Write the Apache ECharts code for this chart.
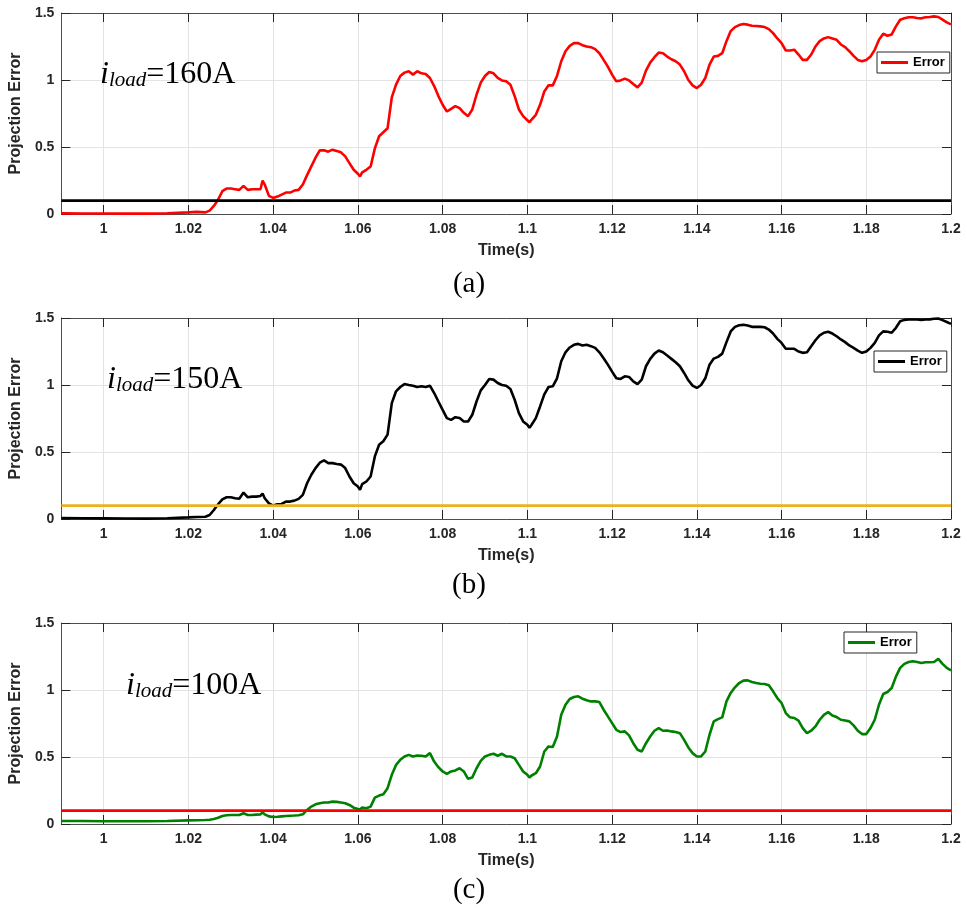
<!DOCTYPE html>
<html>
<head>
<meta charset="utf-8">
<script src="https://cdn.jsdelivr.net/npm/echarts@6/dist/echarts.min.js"></script>
<style>
html,body{margin:0;padding:0;background:#fff;}
#chart{width:967px;height:909px;}
</style>
</head>
<body>
<div id="chart"></div>
<script>
// ---- data ----
const times = [0.990,0.995,1.000,1.005,1.010,1.015,1.020,1.022,1.024,
1.025,1.026,1.027,1.028,1.029,1.030,1.031,1.032,1.033,1.034,1.035,1.036,1.037,1.0375,
1.038,1.039,1.040,1.041,1.042,1.043,1.044,1.045,1.046,1.047,1.048,1.049,1.050,
1.051,1.052,1.053,1.054,1.055,1.056,1.057,1.058,1.059,1.060,1.0605,
1.061,1.062,1.063,1.064,1.065,1.066,1.067,1.068,1.069,1.070,
1.071,1.072,1.073,1.074,1.075,1.076,1.077,1.078,1.079,1.080,
1.081,1.082,1.083,1.084,1.085,1.086,1.087,1.088,1.089,1.090,
1.091,1.092,1.093,1.094,1.095,1.096,1.097,1.098,1.099,1.100,
1.1005,
1.101,1.102,1.103,1.104,1.105,1.106,1.107,1.108,1.109,1.110,
1.111,1.112,1.113,1.114,1.115,1.116,1.117,1.118,1.119,1.120,
1.121,1.122,1.123,1.124,1.125,1.126,1.127,1.128,1.129,1.130,
1.131,1.132,1.133,1.134,1.135,1.136,1.137,1.138,1.139,1.140,
1.141,1.142,1.143,1.144,1.145,1.146,1.147,1.148,1.149,1.150,
1.151,1.152,1.153,1.154,1.155,1.156,1.157,1.158,1.159,1.160,
1.161,1.162,1.163,1.164,1.165,1.166,1.167,1.168,1.169,1.170,
1.171,1.172,1.173,1.174,1.175,1.176,1.177,1.178,1.179,1.180,
1.181,1.182,1.183,1.184,1.185,1.186,1.187,1.188,1.189,1.190,
1.191,1.192,1.193,1.194,1.195,1.196,1.197,1.198,1.199,1.200];

const error160 = [0.005,0.004,0.004,0.003,0.003,0.006,0.012,0.016,0.012,
0.025,0.06,0.107,0.17,0.19,0.19,0.185,0.18,0.21,0.18,0.185,0.185,0.185,0.25,
0.22,0.135,0.12,0.13,0.145,0.16,0.16,0.175,0.18,0.22,0.29,0.355,0.42,
0.475,0.475,0.465,0.48,0.47,0.46,0.43,0.38,0.33,0.30,0.28,
0.31,0.33,0.355,0.49,0.58,0.61,0.64,0.87,0.965,1.03,
1.055,1.065,1.04,1.065,1.05,1.045,1.015,0.955,0.88,0.815,
0.765,0.785,0.805,0.79,0.755,0.73,0.78,0.89,0.98,1.03,
1.06,1.05,1.015,0.997,0.99,0.965,0.88,0.78,0.73,0.70,
0.685,
0.705,0.74,0.815,0.915,0.96,0.96,1.03,1.14,1.215,1.255,
1.275,1.275,1.26,1.25,1.245,1.23,1.20,1.15,1.10,1.04,
0.99,0.997,1.01,0.997,0.97,0.945,0.98,1.07,1.13,1.17,
1.205,1.20,1.175,1.155,1.14,1.115,1.065,1.0,0.96,0.94,
0.965,1.015,1.115,1.175,1.18,1.20,1.29,1.365,1.395,1.41,
1.418,1.413,1.405,1.403,1.40,1.395,1.38,1.35,1.31,1.275,
1.22,1.22,1.226,1.19,1.15,1.15,1.19,1.25,1.29,1.31,
1.32,1.31,1.30,1.265,1.245,1.215,1.18,1.15,1.14,1.15,
1.175,1.225,1.30,1.345,1.33,1.34,1.40,1.45,1.46,1.468,
1.468,1.463,1.46,1.468,1.47,1.475,1.47,1.45,1.43,1.415];

const error150 = [0.008,0.006,0.005,0.004,0.003,0.006,0.012,0.015,0.017,
0.03,0.067,0.11,0.147,0.162,0.162,0.155,0.152,0.197,0.162,0.167,0.167,0.172,0.19,
0.155,0.117,0.10,0.11,0.112,0.13,0.13,0.137,0.15,0.18,0.267,0.33,0.38,
0.42,0.437,0.417,0.417,0.41,0.406,0.38,0.317,0.267,0.242,0.217,
0.26,0.28,0.317,0.467,0.554,0.58,0.63,0.865,0.953,0.985,
1.007,1.0,0.995,0.985,0.99,0.985,0.995,0.94,0.877,0.815,
0.753,0.74,0.76,0.753,0.728,0.728,0.778,0.877,0.96,1.0,
1.045,1.04,1.015,1.0,0.995,0.97,0.89,0.79,0.728,0.703,
0.68,
0.703,0.753,0.84,0.93,0.985,0.99,1.05,1.177,1.244,1.28,
1.30,1.307,1.295,1.30,1.29,1.277,1.244,1.20,1.152,1.10,
1.05,1.045,1.065,1.06,1.027,1.007,1.04,1.14,1.195,1.234,
1.257,1.244,1.22,1.195,1.17,1.14,1.09,1.035,0.995,0.978,
1.0,1.05,1.152,1.197,1.21,1.234,1.32,1.40,1.434,1.446,
1.449,1.444,1.434,1.434,1.434,1.431,1.414,1.384,1.344,1.314,
1.27,1.27,1.27,1.25,1.24,1.244,1.29,1.334,1.37,1.39,
1.397,1.384,1.364,1.34,1.32,1.295,1.277,1.257,1.24,1.25,
1.277,1.314,1.37,1.40,1.397,1.39,1.427,1.476,1.486,1.489,
1.489,1.489,1.486,1.489,1.49,1.494,1.496,1.484,1.47,1.456];

const error100 = [0.022,0.022,0.02,0.02,0.02,0.022,0.027,0.028,0.03,
0.032,0.038,0.047,0.06,0.065,0.067,0.067,0.067,0.08,0.067,0.067,0.07,0.072,0.087,
0.072,0.057,0.052,0.054,0.057,0.06,0.062,0.063,0.065,0.072,0.105,0.13,0.147,
0.155,0.16,0.16,0.167,0.165,0.16,0.155,0.142,0.122,0.112,0.11,
0.122,0.117,0.13,0.197,0.212,0.222,0.267,0.367,0.441,0.479,
0.504,0.516,0.504,0.511,0.509,0.504,0.529,0.466,0.424,0.392,
0.374,0.392,0.40,0.416,0.392,0.337,0.347,0.416,0.471,0.504,
0.516,0.524,0.509,0.524,0.504,0.504,0.491,0.441,0.392,0.367,
0.347,
0.362,0.379,0.429,0.541,0.579,0.574,0.653,0.815,0.89,0.933,
0.948,0.953,0.935,0.923,0.915,0.915,0.91,0.853,0.803,0.753,
0.703,0.686,0.691,0.661,0.603,0.554,0.541,0.603,0.653,0.696,
0.716,0.696,0.698,0.691,0.686,0.678,0.628,0.571,0.529,0.504,
0.504,0.541,0.666,0.766,0.783,0.796,0.915,0.978,1.02,1.052,
1.07,1.072,1.06,1.052,1.047,1.045,1.035,0.99,0.94,0.903,
0.828,0.796,0.791,0.771,0.716,0.678,0.696,0.728,0.778,0.815,
0.835,0.81,0.798,0.778,0.773,0.766,0.736,0.696,0.671,0.671,
0.716,0.778,0.89,0.97,0.985,1.015,1.10,1.165,1.195,1.209,
1.214,1.209,1.202,1.207,1.207,1.209,1.232,1.195,1.165,1.147];

const thresholds = [0.1, 0.1, 0.1];
const loadLabels = ['160A', '150A', '100A'];
const captions = ['(a)', '(b)', '(c)'];
const xTicks = [1.00,1.02,1.04,1.06,1.08,1.1,1.12,1.14,1.16,1.18,1.2];
const xMin = 0.99, xMax = 1.2;
const yMin = 0, yMax = 1.5, yStep = 0.5;
const seriesValues = [error160, error150, error100];

// ---- styling / layout ----
const errorColors = ['#FF0000', '#000000', '#008000'];
const thresholdColors = ['#000000', '#EDB120', '#FF0000'];
const gridTops = [13, 318, 623];
const gridH = 201;
const legendPos = [[877, 52], [874, 351], [844, 632]];
const annoPos = [[100, 59], [107, 364], [126, 670]];
const captionY = [284, 585, 890];
const axisColor = '#4d4d4d';
const labelColor = '#262626';
const sans = 'Liberation Sans, Arial, sans-serif';
const serif = 'Liberation Serif, Times New Roman, serif';

const grids = [], xAxes = [], yAxes = [], series = [], legends = [], graphics = [];

for (let p = 0; p < 3; p++) {
  grids.push({left: 58, width: 893, top: gridTops[p], height: gridH, containLabel: false});
  xAxes.push({
    type: 'value', gridIndex: p, min: xMin, max: xMax, position: 'bottom',
    name: 'Time(s)', nameLocation: 'middle', nameGap: 29,
    nameTextStyle: {fontFamily: sans, fontWeight: 'bold', fontSize: 16, color: labelColor},
    axisLine: {show: true, onZero: false, lineStyle: {color: axisColor, width: 1}},
    axisTick: {show: true, inside: true, length: 9, customValues: xTicks, lineStyle: {color: '#262626', width: 1}},
    axisLabel: {show: true, customValues: xTicks, margin: 8, fontFamily: sans, fontWeight: 'bold', fontSize: 14, color: labelColor},
    splitLine: {show: true, lineStyle: {color: '#e3e3e3', width: 1}}
  });
  xAxes.push({
    type: 'value', gridIndex: p, min: xMin, max: xMax, position: 'top',
    axisLine: {show: true, onZero: false, lineStyle: {color: axisColor, width: 1}},
    axisTick: {show: true, inside: true, length: 9, customValues: xTicks, lineStyle: {color: '#262626', width: 1}},
    axisLabel: {show: false},
    splitLine: {show: false}
  });
  yAxes.push({
    type: 'value', gridIndex: p, min: yMin, max: yMax, interval: yStep, position: 'left',
    name: 'Projection Error', nameLocation: 'middle', nameGap: 28,
    nameTextStyle: {fontFamily: sans, fontWeight: 'bold', fontSize: 16, color: labelColor},
    axisLine: {show: true, onZero: false, lineStyle: {color: axisColor, width: 1}},
    axisTick: {show: true, inside: true, length: 9, lineStyle: {color: '#262626', width: 1}},
    axisLabel: {show: true, margin: 7, fontFamily: sans, fontWeight: 'bold', fontSize: 14, color: labelColor},
    splitLine: {show: true, lineStyle: {color: '#e3e3e3', width: 1}}
  });
  yAxes.push({
    type: 'value', gridIndex: p, min: yMin, max: yMax, interval: yStep, position: 'right',
    axisLine: {show: true, onZero: false, lineStyle: {color: axisColor, width: 1}},
    axisTick: {show: true, inside: true, length: 9, lineStyle: {color: '#262626', width: 1}},
    axisLabel: {show: false},
    splitLine: {show: false}
  });
  const sname = 'Error ' + captions[p];
  series.push({
    name: sname, type: 'line', xAxisIndex: 2 * p, yAxisIndex: 2 * p,
    data: times.map((t, i) => [t, seriesValues[p][i]]),
    symbol: 'none', showSymbol: false, smooth: false,
    lineStyle: {color: errorColors[p], width: 2.6},
    itemStyle: {color: errorColors[p]},
    z: 3
  });
  series.push({
    name: 'threshold ' + captions[p], type: 'line', xAxisIndex: 2 * p, yAxisIndex: 2 * p,
    data: [[xMin, thresholds[p]], [xMax, thresholds[p]]],
    symbol: 'none', showSymbol: false,
    lineStyle: {color: thresholdColors[p], width: 2.6},
    itemStyle: {color: thresholdColors[p]},
    z: 4
  });
  legends.push({
    data: [{name: sname, icon: 'rect'}],
    left: legendPos[p][0], top: legendPos[p][1],
    orient: 'vertical',
    padding: [4, 5, 4, 4],
    itemWidth: 27, itemHeight: 3, itemGap: 0,
    backgroundColor: '#ffffff',
    borderColor: '#262626', borderWidth: 1, borderRadius: 0,
    selectedMode: false,
    formatter: () => 'Error',
    textStyle: {fontFamily: sans, fontWeight: 'bold', fontSize: 13, color: '#000', padding: [0, 0, 0, 0]}
  });
  graphics.push({
    type: 'text', left: annoPos[p][0], top: annoPos[p][1], z: 10,
    style: {
      text: '{i|i}{s|load}{n|=' + loadLabels[p] + '}',
      rich: {
        i: {fontFamily: serif, fontStyle: 'italic', fontSize: 32, fill: '#000', verticalAlign: 'bottom'},
        s: {fontFamily: serif, fontStyle: 'italic', fontSize: 21, fill: '#000', verticalAlign: 'bottom'},
        n: {fontFamily: serif, fontSize: 32, fill: '#000', verticalAlign: 'bottom'}
      }
    }
  });
  graphics.push({
    type: 'text', x: 469, y: captionY[p], z: 10,
    style: {text: captions[p], fontFamily: serif, fontSize: 29, fill: '#000', align: 'center', verticalAlign: 'middle'}
  });
}

const chart = echarts.init(document.getElementById('chart'), null, {renderer: 'canvas'});
chart.setOption({
  animation: false,
  backgroundColor: '#ffffff',
  grid: grids,
  xAxis: xAxes,
  yAxis: yAxes,
  series: series,
  legend: legends,
  graphic: graphics
});
</script>
</body>
</html>
